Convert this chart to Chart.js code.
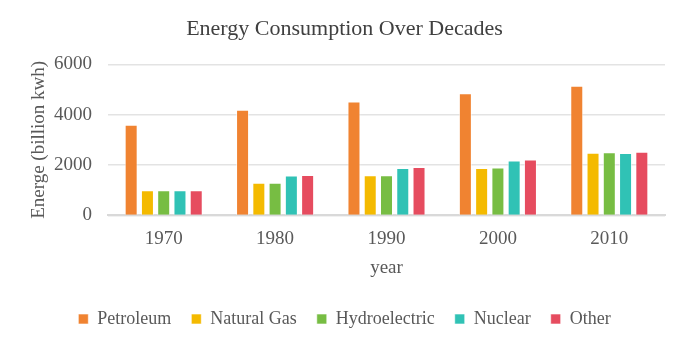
<!DOCTYPE html>
<html>
<head>
<meta charset="utf-8">
<script src="https://cdn.jsdelivr.net/npm/chart.js@4"></script>
<style>
  body { margin: 0; background: #fff; }
  #wrap { width: 685px; height: 344px; }
</style>
</head>
<body>
<div id="wrap"><canvas id="energyChart"></canvas></div>
<script>
// Data
const years = ['1970', '1980', '1990', '2000', '2010'];
const petroleum = [3600, 4200, 4530, 4850, 5150];
const naturalGas = [1000, 1300, 1600, 1880, 2490];
const hydroelectric = [1000, 1300, 1600, 1900, 2510];
const nuclear = [1000, 1590, 1880, 2180, 2480];
const other = [1000, 1610, 1920, 2220, 2530];
const yTicks = [0, 2000, 4000, 6000];

const serif = '"Liberation Serif", "Times New Roman", serif';
const grey = '#595959';
Chart.defaults.font.family = serif;

function series(label, data, color) {
    return {
        label: label,
        data: data,
        backgroundColor: color,
        borderColor: 'rgba(255,255,255,0.6)',
        borderWidth: 1,
        categoryPercentage: 0.73,
        barPercentage: 0.8
    };
}

document.addEventListener('DOMContentLoaded', function() {
    const ctx = document.getElementById('energyChart');
    new Chart(ctx, {
        type: 'bar',
        data: {
            labels: years,
            datasets: [
                series('Petroleum', petroleum, '#F08331'),
                series('Natural Gas', naturalGas, '#F4BA00'),
                series('Hydroelectric', hydroelectric, '#77BD43'),
                series('Nuclear', nuclear, '#30C2B5'),
                series('Other', other, '#E64C5F')
            ]
        },
        options: {
            responsive: true,
            maintainAspectRatio: false,
            animation: false,
            layout: { padding: { left: 24, right: 20, top: 10, bottom: 6 } },
            scales: {
                x: {
                    grid: { display: false },
                    border: { display: true, color: '#d9d9d9', width: 2 },
                    ticks: { color: grey, font: { family: serif, size: 19 }, padding: 4 },
                    title: { display: true, text: 'year', color: grey, font: { family: serif, size: 19 }, padding: { top: 2, bottom: 11 } }
                },
                y: {
                    min: 0,
                    max: 6000,
                    afterBuildTicks: function(scale) {
                        scale.ticks = yTicks.map(v => ({ value: v }));
                    },
                    afterFit: function(scale) {
                        scale.width = 84;
                    },
                    grid: { color: '#e3e3e3', lineWidth: 1.5, drawTicks: false },
                    border: { display: false },
                    ticks: {
                        color: grey,
                        font: { family: serif, size: 19 },
                        padding: 16,
                        callback: function(v) { return String(v); }
                    },
                    title: { display: true, text: 'Energe (billion kwh)', color: grey, font: { family: serif, size: 19 }, padding: { bottom: 2 } }
                }
            },
            plugins: {
                title: {
                    display: true,
                    text: 'Energy Consumption Over Decades',
                    color: '#404040',
                    font: { family: serif, size: 22, weight: 'normal' },
                    padding: { top: 6, bottom: 22 }
                },
                legend: {
                    position: 'bottom',
                    labels: {
                        color: grey,
                        font: { family: serif, size: 18 },
                        boxWidth: 10,
                        boxHeight: 10,
                        padding: 20
                    }
                },
                tooltip: { enabled: false }
            }
        }
    });
});
</script>
</body>
</html>
